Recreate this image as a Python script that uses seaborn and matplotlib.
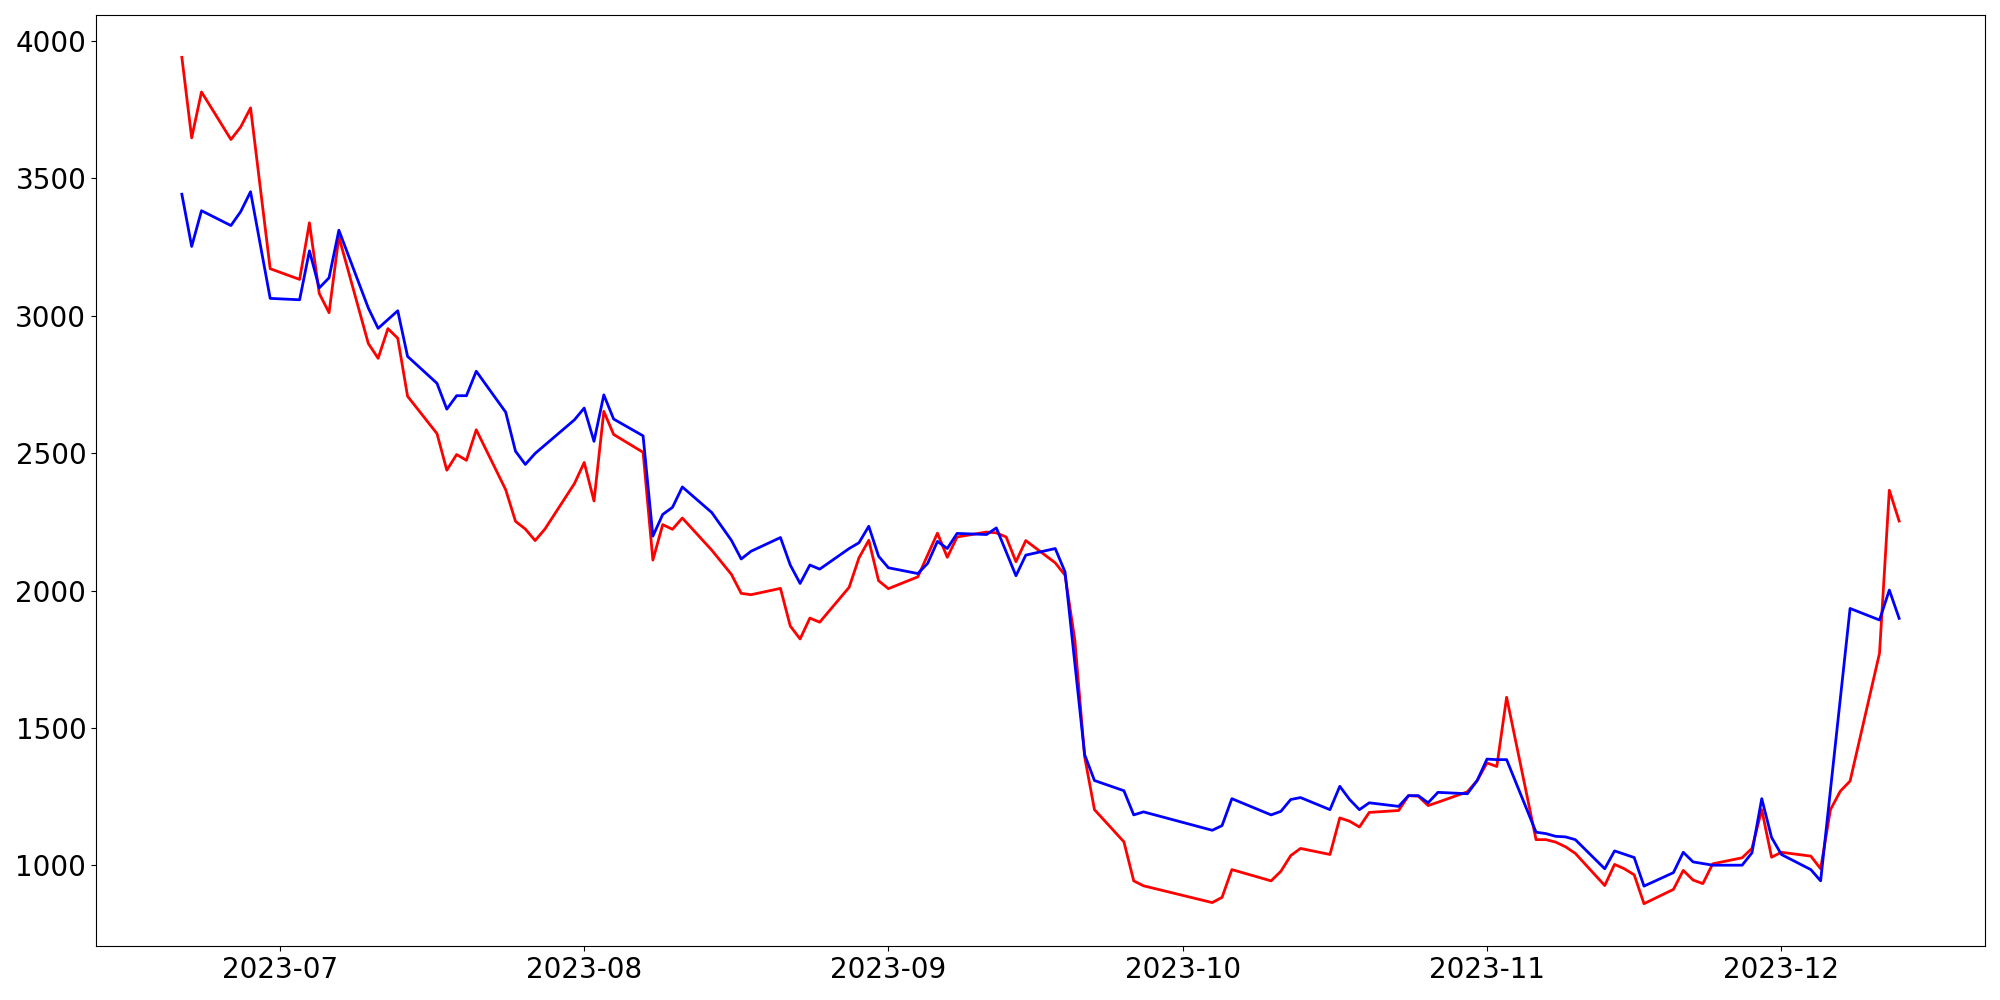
import pandas as pd
import numpy as np
from matplotlib import pyplot as plt
import seaborn as sns

dates = ['2023-06-21', '2023-06-22', '2023-06-23', '2023-06-26', '2023-06-27', '2023-06-28', '2023-06-30',
         '2023-07-03', '2023-07-04', '2023-07-05', '2023-07-06', '2023-07-07', '2023-07-10', '2023-07-11',
         '2023-07-12', '2023-07-13', '2023-07-14', '2023-07-17', '2023-07-18', '2023-07-19', '2023-07-20',
         '2023-07-21', '2023-07-24', '2023-07-25', '2023-07-26', '2023-07-27', '2023-07-28', '2023-07-31',
         '2023-08-01', '2023-08-02', '2023-08-03', '2023-08-04', '2023-08-07', '2023-08-08', '2023-08-09',
         '2023-08-10', '2023-08-11', '2023-08-14', '2023-08-16', '2023-08-17', '2023-08-18', '2023-08-21',
         '2023-08-22', '2023-08-23', '2023-08-24', '2023-08-25', '2023-08-28', '2023-08-29', '2023-08-30',
         '2023-08-31', '2023-09-01', '2023-09-04', '2023-09-05', '2023-09-06', '2023-09-07', '2023-09-08',
         '2023-09-11', '2023-09-12', '2023-09-13', '2023-09-14', '2023-09-15', '2023-09-18', '2023-09-19',
         '2023-09-20', '2023-09-21', '2023-09-22', '2023-09-25', '2023-09-26', '2023-09-27', '2023-10-04',
         '2023-10-05', '2023-10-06', '2023-10-10', '2023-10-11', '2023-10-12', '2023-10-13', '2023-10-16',
         '2023-10-17', '2023-10-18', '2023-10-19', '2023-10-20', '2023-10-23', '2023-10-24', '2023-10-25',
         '2023-10-26', '2023-10-27', '2023-10-30', '2023-10-31', '2023-11-01', '2023-11-02', '2023-11-03',
         '2023-11-06', '2023-11-07', '2023-11-08', '2023-11-09', '2023-11-10', '2023-11-13', '2023-11-14',
         '2023-11-15', '2023-11-16', '2023-11-17', '2023-11-20', '2023-11-21', '2023-11-22', '2023-11-23',
         '2023-11-24', '2023-11-27', '2023-11-28', '2023-11-29', '2023-11-30', '2023-12-01', '2023-12-04',
         '2023-12-05', '2023-12-06', '2023-12-07', '2023-12-08', '2023-12-11', '2023-12-12', '2023-12-13']

red = [3940, 3647, 3814, 3641, 3687, 3756, 3171,
       3132, 3338, 3081, 3011, 3287, 2899, 2845,
       2953, 2918, 2707, 2571, 2438, 2495, 2474,
       2585, 2367, 2252, 2224, 2182, 2224, 2389,
       2466, 2326, 2652, 2568, 2503, 2111, 2240,
       2223, 2264, 2147, 2059, 1990, 1985, 2008,
       1871, 1824, 1900, 1885, 2012, 2119, 2183,
       2036, 2007, 2050, None, 2209, 2121, 2195,
       2213, 2210, 2195, 2105, 2182, 2101, 2056,
       1820, 1395, 1203, 1086, 944, 926, 865,
       884, 985, 944, 979, 1036, 1062, 1040,
       1173, 1161, 1140, 1193, 1200, 1254, 1252,
       1218, 1230, 1268, 1309, 1373, 1360, 1612,
       1094, 1094, 1085, 1068, 1044, 927, 1004,
       988, 966, 861, 913, 982, 947, 934,
       1006, 1028, 1062, 1203, 1030, 1048, 1034,
       988, 1203, 1270, 1307, 1772, 2365, 2253]

blue = [3442, 3252, 3382, 3328, 3379, 3451, 3063,
        3058, 3236, 3101, 3138, 3311, 3028, 2954,
        None, 3018, 2852, 2754, 2660, 2709, 2709,
        2798, 2649, 2507, 2459, 2499, None, 2621,
        2664, 2543, 2712, 2624, 2563, 2198, 2277,
        2303, 2377, 2284, 2183, 2115, 2143, 2193,
        2093, 2026, 2093, 2078, 2153, 2174, 2234,
        2125, 2083, 2062, 2099, 2179, 2153, 2208,
        2204, 2228, None, 2054, 2129, 2153, 2068,
        None, 1403, 1309, 1272, 1184, 1195, 1128,
        1145, 1243, 1184, 1197, 1240, 1247, 1203,
        1288, 1240, 1203, 1228, 1215, 1254, 1254,
        1228, 1266, 1261, 1309, 1387, 1385, 1385,
        1121, 1116, 1106, 1104, 1094, 988, 1053,
        None, 1029, 925, 974, 1048, 1013, None,
        1001, 1001, 1046, 1243, 1102, 1040, 985,
        944, None, None, 1935, 1893, 2002, 1899]

df = pd.DataFrame({'date': pd.to_datetime(dates),
                   'red': pd.array(red, dtype='Float64'),
                   'blue': pd.array(blue, dtype='Float64')})

fig, ax = plt.subplots(figsize=(20, 10), dpi=100)

d_red = df[['date', 'red']].dropna().astype({'red': float})
d_blue = df[['date', 'blue']].dropna().astype({'blue': float})
sns.lineplot(data=d_red, x='date', y='red', color='red', linewidth=2, ax=ax)
sns.lineplot(data=d_blue, x='date', y='blue', color='blue', linewidth=2, ax=ax)

ax.set_xlabel('')
ax.set_ylabel('')
ax.tick_params(labelsize=20)
plt.subplots_adjust(left=0.048, right=0.9925, top=0.985, bottom=0.054)
plt.savefig('out.png')
